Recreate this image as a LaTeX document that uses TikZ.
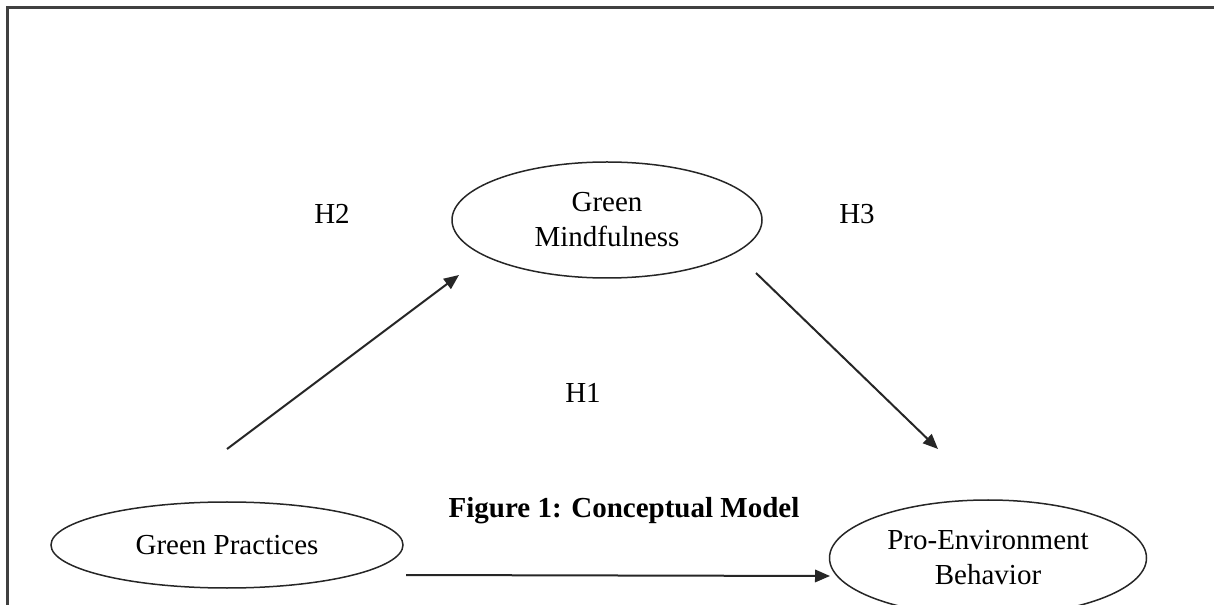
\documentclass[tikz,border=0pt]{standalone}
\usepackage{fontspec}
\setmainfont{Liberation Serif}
\usetikzlibrary{shapes.geometric,arrows.meta}
\begin{document}
\begin{tikzpicture}[x=0.4pt,y=-0.4pt]
\tikzset{
    >={Triangle[length=6pt,width=5pt]},
    seta/.style={->, line width=0.8pt, black!85},
    construto/.style={ellipse, draw=black!85, line width=0.6pt, inner sep=0pt,
                      align=center, font=\fontsize{11.6}{14}\selectfont},
    rotulo/.style={anchor=base, font=\fontsize{11.6}{14}\selectfont},
    titulo/.style={anchor=base, font=\fontsize{11.6}{14}\selectfont\bfseries},
    moldura/.style={line width=1.2pt, black!75}
}
\useasboundingbox (0,0) rectangle (1214,605);
\draw[moldura] (7.5,605) -- (7.5,7.5) -- (1214,7.5);
\node[construto, minimum width=140.8pt, minimum height=34.4pt] (gp) at (227,545) {Green Practices};
\node[construto, minimum width=124pt,   minimum height=46.4pt] (gm) at (607,220) {Green\\Mindfulness};
\node[construto, minimum width=126.8pt, minimum height=46.4pt] (pe) at (988,558) {Pro-Environment\\Behavior};
\coordinate (h2a) at (227,449);
\coordinate (h2b) at (459,275);
\coordinate (h3a) at (756,273);
\coordinate (h3b) at (938,449);
\coordinate (h1a) at (406,575);
\coordinate (h1b) at (830,576);
\draw[seta] (h2a) -- (h2b);
\draw[seta] (h3a) -- (h3b);
\draw[seta] (h1a) -- (h1b);
\node[rotulo] (h2) at (332,224) {H2};
\node[rotulo] (h3) at (857,224) {H3};
\node[rotulo] (h1) at (583,403) {H1};
\node[titulo] (leg) at (624,518) {Figure 1: Conceptual Model};
\end{tikzpicture}
\end{document}
